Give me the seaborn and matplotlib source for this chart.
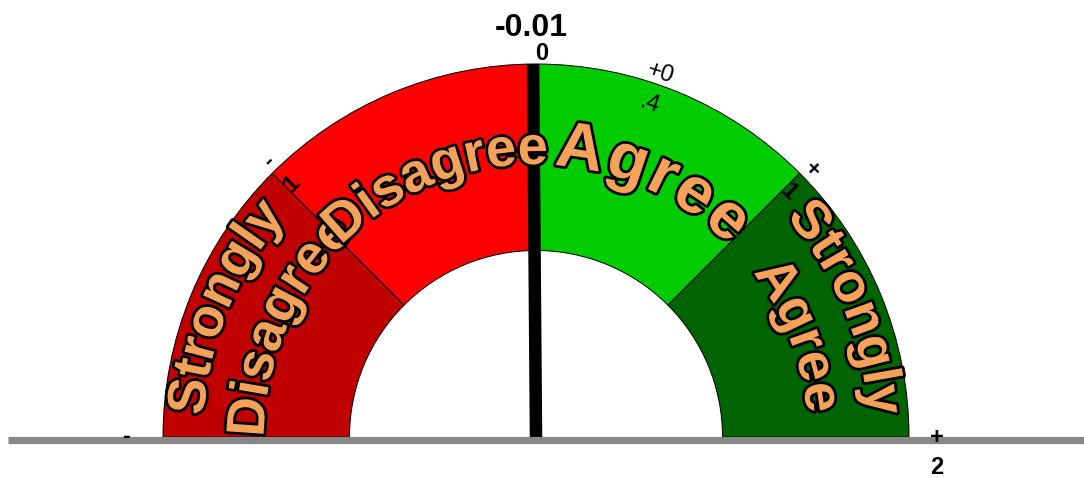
import numpy as np
import pandas as pd
import matplotlib
matplotlib.use("Agg")
import matplotlib.pyplot as plt
import seaborn as sns
from matplotlib.patches import Wedge
from matplotlib.textpath import TextToPath
from matplotlib.font_manager import FontProperties
import matplotlib.patheffects as pe

# ---------------- data ----------------
categories = ["Strongly Disagree", "Disagree", "Agree", "Strongly Agree"]
label_lines = [["Strongly", "Disagree"], ["Disagree"], ["Agree"], ["Strongly", "Agree"]]
bounds = [-2, -1, 0, 1, 2]
value = -0.01
tick_values = [-2, -1, 0, 0.4, 1, 2]
tick_labels = ["-2", "-1", "0", "+0.4", "+1", "+2"]
seg_colors = ["#C00000", "#FF0000", "#00CC00", "#006400"]

# ---------------- style ----------------
sns.set_theme(style="white")
plt.rcParams['font.family'] = ['Liberation Sans', 'DejaVu Sans']

DPI = 100
W, H = 1084, 478
CX, CY, RPX = 536, 437, 373  # gauge centre and radius in pixels

fig = plt.figure(figsize=(W / DPI, H / DPI), dpi=DPI)
ax = fig.add_axes([0, 0, 1, 1])
ax.set_xlim(-CX / RPX, (W - CX) / RPX)
ax.set_ylim((CY - H) / RPX, CY / RPX)
ax.set_aspect('equal')
ax.axis('off')

vmin, vmax = bounds[0], bounds[-1]


def ang(v):
    return 180.0 - (v - vmin) / (vmax - vmin) * 180.0


# segments
for i, cat in enumerate(categories):
    w = Wedge((0, 0), 1.0, ang(bounds[i + 1]), ang(bounds[i]), width=0.5,
              facecolor=seg_colors[i], edgecolor='black', linewidth=0.7, zorder=2)
    ax.add_patch(w)

# baseline
base = pd.DataFrame({'x': [(8 - CX) / RPX, (W - CX) / RPX], 'y': [-3 / RPX, -3 / RPX]})
sns.lineplot(data=base, x='x', y='y', color='#888888', linewidth=5.2, ax=ax,
             legend=False, sort=False, zorder=3, solid_capstyle='butt')

# needle
na = np.radians(ang(value))
needle = pd.DataFrame({'x': [0.0, np.cos(na)], 'y': [0.0, np.sin(na)]})
sns.lineplot(data=needle, x='x', y='y', color='black', linewidth=9, ax=ax,
             legend=False, sort=False, zorder=4, solid_capstyle='butt')
ax.set_xlabel('')
ax.set_ylabel('')

# ---------------- curved labels ----------------
t2p = TextToPath()
lab_fp = FontProperties(family='Liberation Sans', weight='bold', size=39)
big_fp = FontProperties(family='Liberation Sans', weight='bold', size=47)
ORANGE = '#F4A25A'


def text_w(s, fp):
    if not s:
        return 0.0
    w, h, d = t2p.get_text_width_height_descent(s, fp, ismath=False)
    return w * DPI / 72.0 / RPX


def arc_text(s, r, theta_c, fp, spacing_px=0.0):
    sp = spacing_px / RPX
    n = len(s)
    total = text_w(s, fp) + sp * (n - 1)
    for i, ch in enumerate(s):
        cw = text_w(ch, fp)
        left = text_w(s[:i + 1], fp) - cw
        sc = left + cw / 2 + sp * i - total / 2
        phi = np.radians(theta_c) - sc / r
        ax.text(r * np.cos(phi), r * np.sin(phi), ch,
                rotation=np.degrees(phi) - 90, rotation_mode='anchor',
                ha='center', va='baseline', fontproperties=fp, color=ORANGE,
                path_effects=[pe.withStroke(linewidth=4, foreground='black')],
                zorder=6)


for i, lines in enumerate(label_lines):
    mid = (ang(bounds[i]) + ang(bounds[i + 1])) / 2
    if len(lines) == 1:
        if lines[0] == "Agree":
            arc_text(lines[0], 272 / RPX, mid - 2.0, big_fp, spacing_px=3)
        else:
            arc_text(lines[0], 273 / RPX, mid - 1.0, lab_fp)
    else:
        arc_text(lines[0], 333 / RPX, mid, lab_fp)
        arc_text(lines[1], 272 / RPX, mid - 1.5, lab_fp)

# ---------------- tick labels ----------------


def wrap(lbl):
    if '.' in lbl:
        k = lbl.index('.')
        return [lbl[:k], lbl[k:]]
    if lbl[0] in '+-' and len(lbl) > 1:
        return [lbl[0], lbl[1:]]
    return [lbl]


for v, lbl in zip(tick_values, tick_labels):
    th = ang(v)
    t = np.radians(th)
    parts = wrap(lbl)
    if v in (vmin, vmax):
        off = 37 if v == vmin else 28
        x0 = np.cos(t) * (1.0 + off / RPX)
        ax.text(x0, 0, parts[0], ha='center', va='center', fontsize=17,
                fontweight='bold', color='black', zorder=7)
        if v == vmax and len(parts) > 1:
            ax.text(x0, -31 / RPX, parts[1], ha='center', va='center',
                    fontsize=17, fontweight='bold', color='black', zorder=7)
        continue
    weight = 'normal' if '.' in lbl else 'bold'
    # slight clockwise shift along the arc
    t1 = t - 6 / RPX
    r1 = 1.0 + 11 / RPX
    ax.text(r1 * np.cos(t1), r1 * np.sin(t1), parts[0], rotation=th - 90,
            rotation_mode='anchor', ha='center', va='center', fontsize=17,
            fontweight=weight, color='black', zorder=7)
    if len(parts) > 1:
        r2 = 1.0 - 21 / RPX
        ax.text(r2 * np.cos(t1), r2 * np.sin(t1), parts[1], rotation=th - 90,
                rotation_mode='anchor', ha='center', va='center', fontsize=17,
                fontweight=weight, color='black', zorder=7)

# value
ax.text((531 - CX) / RPX, (CY - 28) / RPX, f"{value:.2f}", ha='center', va='center',
        fontsize=23, fontweight='bold', color='black', zorder=7)

fig.savefig("out.png", dpi=DPI)
